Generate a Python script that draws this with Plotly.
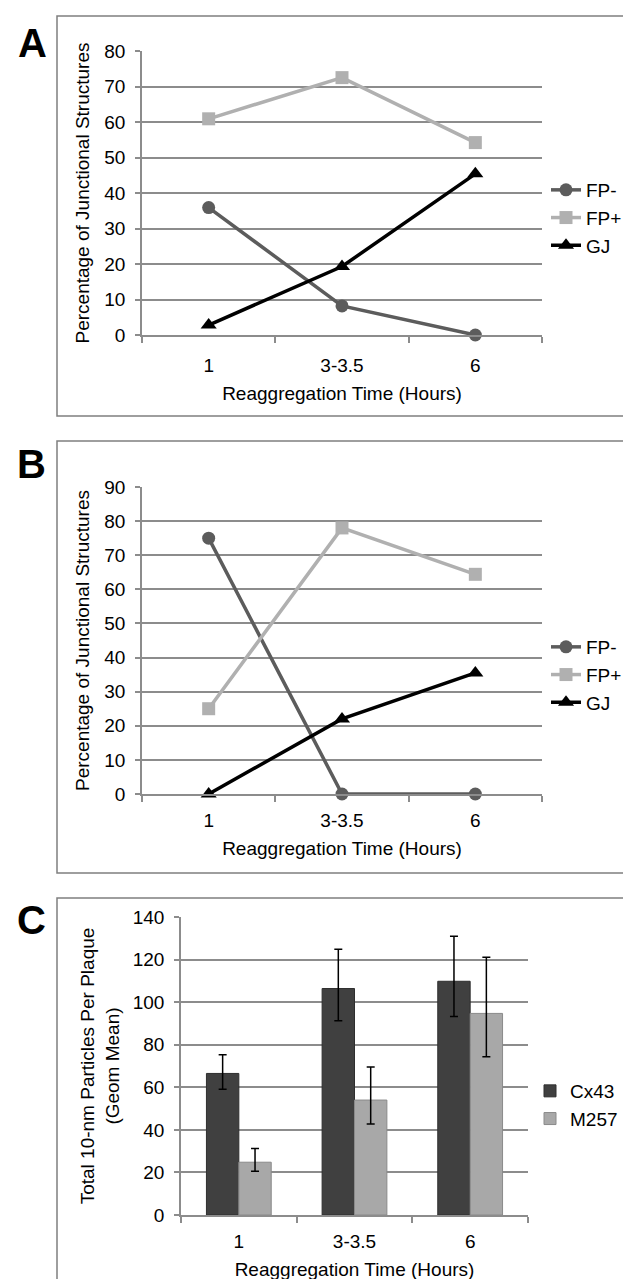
import plotly.graph_objects as go

# ---------------- data ----------------
times = ["1", "3-3.5", "6"]

a_fp_minus = [35.9, 8.2, 0]
a_fp_plus = [60.9, 72.5, 54.2]
a_gj = [2.8, 19.3, 45.4]

b_fp_minus = [75.0, 0, 0]
b_fp_plus = [25.0, 78.0, 64.4]
b_gj = [0, 22.0, 35.5]

cx43 = [66.5, 106.4, 109.8]
cx43_hi = [75.3, 124.8, 130.9]
cx43_lo = [59.1, 91.3, 93.3]
m257 = [24.8, 54.0, 94.7]
m257_hi = [31.2, 69.5, 121.1]
m257_lo = [20.5, 42.7, 74.4]

x_title = "Reaggregation Time (Hours)"
y_title_ab = "Percentage of Junctional Structures"
y_title_c = "Total 10-nm Particles Per Plaque<br>(Geom Mean)"

# ---------------- style ----------------
W, H = 631, 1279
FONT = "Liberation Sans, Arial, sans-serif"
GRID = "#8c8c8c"
AXIS = "#8c8c8c"
C_FPM = "#5c5c5c"
C_FPP = "#b0b0b0"
C_GJ = "#000000"
C_CX = "#404040"
C_M = "#a8a8a8"


def px_x(p):
    return p / W


def px_y(p):
    return 1 - p / H


fig = go.Figure()

series_sets = [
    ("x", "y", "legend", a_fp_minus, a_fp_plus, a_gj),
    ("x2", "y2", "legend2", b_fp_minus, b_fp_plus, b_gj),
]
for xa, ya, lg, fpm, fpp, gj in series_sets:
    fig.add_trace(go.Scatter(x=times, y=fpm, name="FP-", mode="lines+markers",
                             line=dict(color=C_FPM, width=3.5),
                             marker=dict(symbol="circle", size=13, color=C_FPM),
                             xaxis=xa, yaxis=ya, legend=lg, cliponaxis=False))
    fig.add_trace(go.Scatter(x=times, y=fpp, name="FP+", mode="lines+markers",
                             line=dict(color=C_FPP, width=3.5),
                             marker=dict(symbol="square", size=13, color=C_FPP),
                             xaxis=xa, yaxis=ya, legend=lg, cliponaxis=False))
    fig.add_trace(go.Scatter(x=times, y=gj, name="GJ", mode="lines+markers",
                             line=dict(color=C_GJ, width=3.5),
                             marker=dict(symbol="triangle-up", size=14, color=C_GJ),
                             xaxis=xa, yaxis=ya, legend=lg, cliponaxis=False))

fig.add_trace(go.Bar(x=times, y=cx43, name="Cx43",
                     marker=dict(color=C_CX, line=dict(color="#2e2e2e", width=1)),
                     error_y=dict(type="data", symmetric=False,
                                  array=[h - v for h, v in zip(cx43_hi, cx43)],
                                  arrayminus=[v - l for v, l in zip(cx43, cx43_lo)],
                                  color="#000000", thickness=1.5, width=4),
                     xaxis="x3", yaxis="y3", legend="legend3"))
fig.add_trace(go.Bar(x=times, y=m257, name="M257",
                     marker=dict(color=C_M, line=dict(color="#8a8a8a", width=1)),
                     error_y=dict(type="data", symmetric=False,
                                  array=[h - v for h, v in zip(m257_hi, m257)],
                                  arrayminus=[v - l for v, l in zip(m257, m257_lo)],
                                  color="#000000", thickness=1.5, width=4),
                     xaxis="x3", yaxis="y3", legend="legend3"))

tickfont = dict(family=FONT, size=19, color="#000000")
titlefont = dict(family=FONT, size=19, color="#000000")


def xaxis(domain, anchor, standoff_lbl):
    return dict(domain=domain, anchor=anchor, type="category", range=[-0.5, 2.5],
                showgrid=False, showline=True, linecolor=AXIS, linewidth=1.5,
                ticks="outside", tickson="boundaries", ticklen=6, tickcolor=AXIS,
                tickwidth=1.5, tickfont=tickfont, ticklabelstandoff=standoff_lbl,
                title=dict(text=x_title, font=titlefont, standoff=12),
                fixedrange=True, automargin=False)


def yaxis(domain, anchor, rng, dtick, title, standoff):
    return dict(domain=domain, anchor=anchor, range=rng, dtick=dtick,
                showgrid=True, gridcolor=GRID, gridwidth=1.5, zeroline=False,
                showline=True, linecolor=AXIS, linewidth=1.5,
                ticks="outside", ticklen=5, tickcolor=AXIS, tickwidth=1.5,
                tickfont=tickfont, ticklabelstandoff=6,
                title=dict(text=title, font=titlefont, standoff=standoff),
                fixedrange=True, automargin=False)


dom_x_ab = [px_x(134), px_x(534)]
dom_x_c = [px_x(173), px_x(520)]

legend_common = dict(font=dict(family=FONT, size=19, color="#000000"),
                     bgcolor="rgba(0,0,0,0)", borderwidth=0,
                     xanchor="left", yanchor="top", tracegroupgap=0)

fig.update_layout(
    width=W, height=H,
    margin=dict(l=0, r=0, t=0, b=0),
    paper_bgcolor="#ffffff", plot_bgcolor="#ffffff",
    font=dict(family=FONT, size=19, color="#000000"),
    barmode="group", bargap=0.44, bargroupgap=0,
    xaxis=xaxis(dom_x_ab, "y", 12),
    yaxis=yaxis([px_y(327), px_y(43)], "x", [0, 80], 10, y_title_ab, 10),
    xaxis2=xaxis(dom_x_ab, "y2", 8),
    yaxis2=yaxis([px_y(786), px_y(479)], "x2", [0, 90], 10, y_title_ab, 10),
    xaxis3=xaxis(dom_x_c, "y3", 8),
    yaxis3=yaxis([px_y(1207), px_y(909)], "x3", [0, 140], 20, y_title_c, 8),
    legend=dict(x=px_x(538), y=px_y(163), **legend_common),
    legend2=dict(x=px_x(538), y=px_y(620), **legend_common),
    legend3=dict(x=px_x(522), y=px_y(1064), **legend_common),
    showlegend=True,
)

# panel frames
frames = [(8, 408), (433, 865), (890, 1300)]
for top, bottom in frames:
    fig.add_shape(type="rect", xref="paper", yref="paper",
                  x0=px_x(49), x1=px_x(660), y0=px_y(bottom), y1=px_y(top),
                  line=dict(color="#7f7f7f", width=1.5), fillcolor="rgba(0,0,0,0)",
                  layer="below")

# panel letters
for letter, cx, cy in [("A", 24, 35), ("B", 23, 456), ("C", 23, 912)]:
    fig.add_annotation(text="<b>%s</b>" % letter, xref="paper", yref="paper",
                       x=px_x(cx), y=px_y(cy), xanchor="center", yanchor="middle",
                       showarrow=False, font=dict(family=FONT, size=40, color="#000000"))

fig.write_html("out.html")
